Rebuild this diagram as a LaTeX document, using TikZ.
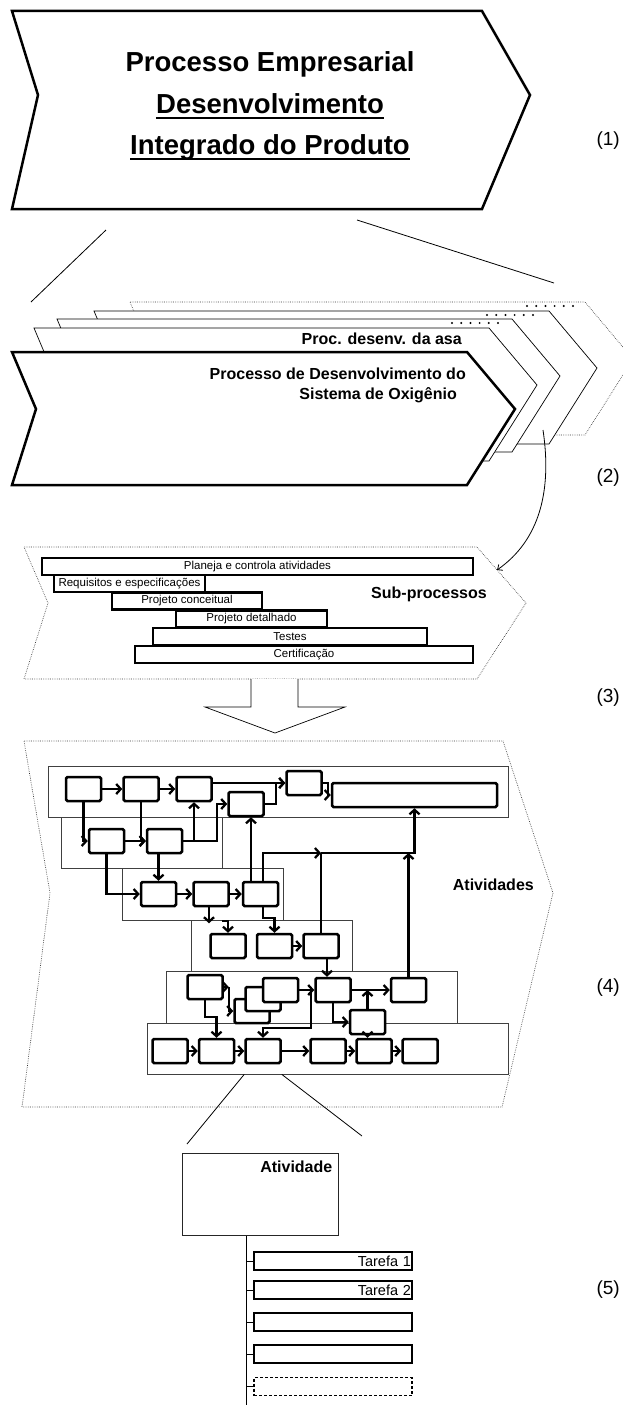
\documentclass[tikz,border=0pt]{standalone}
\usepackage{fontspec}
\setmainfont{Liberation Sans}
\usetikzlibrary{arrows.meta}

\begin{document}
\begin{tikzpicture}[x=1pt,y=-1pt,
		chev/.style={draw,line width=2.5pt,fill=white},
		sheet/.style={draw,line width=0.7pt,fill=white},
		dotline/.style={draw=black!80,line width=0.7pt,dash pattern=on 0.6pt off 1.2pt},
		lane/.style={draw=black!75,line width=0.7pt,fill=white,inner sep=0pt},
		act/.style={draw,line width=2.5pt,fill=white,rounded corners=1.5pt,minimum width=35pt,minimum height=24pt,inner sep=0pt},
		flow/.style={line width=2.3pt,-{Straight Barb[length=4.5pt,width=10pt]}},
		bar/.style={draw,line width=2.2pt,fill=white,minimum height=17pt,inner sep=0pt,font=\fontsize{11.5}{13}\selectfont},
		task/.style={draw,fill=white,minimum height=18pt,text width=156pt,align=right,inner xsep=1pt,inner ysep=0pt,font=\fontsize{14.5}{16}\selectfont},
		ttl/.style={anchor=base,inner sep=0pt,font=\bfseries\fontsize{27.5}{33}\selectfont},
		head/.style={inner sep=0pt,font=\bfseries\fontsize{16}{19}\selectfont},
		tag/.style={anchor=east,inner sep=0pt,font=\fontsize{19}{22}\selectfont},
		guide/.style={line width=0.8pt}]
	
	\useasboundingbox (0,0) rectangle (623,1405);
	
	% level 1: enterprise process
	\draw[chev] (12,11) -- (482,11) -- (530,95) -- (482,209) -- (12,209) -- (38,95) -- cycle;
	\node[ttl] (ttlA) at (270,71) {Processo Empresarial};
	\node[ttl] (ttlB) at (270,113) {Desenvolvimento};
	\node[ttl] (ttlC) at (270,154) {Integrado do Produto};
	\draw[line width=2pt] ([yshift=-5pt]ttlB.base west) -- ([yshift=-5pt]ttlB.base east);
	\draw[line width=2pt] ([yshift=-5pt]ttlC.base west) -- ([yshift=-5pt]ttlC.base east);
	\node[tag] (lab1) at (620,141) {(1)};
	
	% zoom lines
	\draw[guide] (106,230) -- (31,302);
	\draw[guide] (357,220) -- (554,283);
	
	% level 2: stack of system processes, back to front
	\draw[sheet,dotline,shift={(118,-50)}] (12,352) -- (467,352) -- (515,409) -- (467,485) -- (12,485) -- (36,409) -- cycle;
	\foreach \dx/\dy in {82/-41,45/-33,22/-24}
		\draw[sheet,shift={(\dx,\dy)}] (12,352) -- (467,352) -- (515,409) -- (467,485) -- (12,485) -- (36,409) -- cycle;
	\draw[chev] (12,352) -- (467,352) -- (515,409) -- (467,485) -- (12,485) -- (36,409) -- cycle;
	\foreach \x/\y in {452/323,487/315,527/306}
		\foreach \i in {0,...,5}
			\fill (\x+9.2*\i,\y) circle (1.1pt);
	\node[head,anchor=base east] (asa) at (462,344) {Proc. desenv. da asa};
	\node[head,anchor=base east] (oxiA) at (466,379) {Processo de Desenvolvimento do};
	\node[head,anchor=base east] (oxiB) at (457,399) {Sistema de Oxigênio};
	\node[tag] (lab2) at (620,478) {(2)};
	
	% pointer down to the sub-processes
	\coordinate (s3) at (543,430);
	\coordinate (sub) at (497,570);
	\draw[guide,-{Straight Barb[length=4pt,width=7pt]}] (s3) .. controls (552,490) and (540,540) .. (sub);
	
	% level 3: sub-processes
	\draw[sheet,dotline] (24,547) -- (477,547) -- (526,603) -- (477,679) -- (24,679) -- (48,603) -- cycle;
	\node[bar,minimum width=431pt] (plan) at (257.5,566.5) {Planeja e controla atividades};
	\node[bar,minimum width=151pt] (req) at (129.5,583.5) {Requisitos e especificações};
	\node[bar,minimum width=150pt] (conc) at (187,601) {Projeto conceitual};
	\node[bar,minimum width=151pt] (det) at (251.5,619) {Projeto detalhado};
	\node[bar,minimum width=274pt] (test) at (290,636.5) {Testes};
	\node[bar,minimum width=338pt] (cert) at (304,654.5) {Certificação};
	\node[head,anchor=east] (subp) at (487,594) {Sub-processos};
	\node[tag] (lab3) at (620,698) {(3)};
	
	% block arrow
	\draw[sheet] (251,679) -- (251,707) -- (205,707) -- (275,733) -- (345,707) -- (298,707) -- (298,679);
	
	% level 4: activities
	\draw[sheet,dotline] (24,741) -- (503,741) -- (553,893) -- (502,1107) -- (22,1107) -- (50,893) -- cycle;
	\foreach \n/\x/\y/\w/\h in {1/278/791.5/460/51, 2/141.5/842.5/161/51, 3/202.5/894/161/52,
			4/271.5/945.5/161/51, 5/311.5/997/291/52, 6/327.5/1048.5/361/51}
		\node[lane,minimum width=\w pt,minimum height=\h pt] (lane\n) at (\x,\y) {};
	\node[head,anchor=east] (ativs) at (534,885) {Atividades};
	\node[tag] (lab4) at (620,988) {(4)};
	
	\foreach \n/\x/\y in {a11/83.5/789, a12/141/789, a13/194/789, a14/246/804, a15/304/783,
			a21/106.5/841, a22/164.5/841, a31/158.5/894, a32/211/894, a33/260.5/894,
			a41/228/946, a42/274.5/946, a43/321/946,
			a51/205/987, a52c/252/1011, a52b/263/999, a52a/280.5/990, a53/333/990, a54/408.5/990, a55/367.5/1022,
			a61/170/1051, a62/216.5/1051, a63/263/1051, a64/328/1051, a65/374/1051, a66/420/1051}
		\node[act] (\n) at (\x,\y) {};
	\node[act,minimum width=165pt] (a16) at (414.5,795) {};
	
	% straight links
	\foreach \a/\b in {a11/a12,a12/a13,a21/a22,a31/a32,a32/a33,a42/a43,a52a/a53,a53/a54,
			a61/a62,a62/a63,a63/a64,a64/a65,a65/a66}
		\draw[flow] (\a) -- (\b);
	
	% routed links
	\coordinate (j1) at (321,853);
	\draw[flow] (a13.east |- a15.west) -- (a15.west);
	\draw[flow] (a14.east) -- ++(11,0) |- (a15.west);
	\draw[flow] (a15.east) -- ++(5,0) |- (a16.west);
	\draw[flow] (a11.south) |- (a21.west);
	\draw[flow] (a12.south) |- (a22.west);
	\draw[flow] (a22.east) -| (a13.south);
	\draw[flow] (a22.east) -- ++(34,0) |- (a14.west);
	\draw[flow] (a21.south) |- (a31.west);
	\draw[flow] (a31.north |- a22.south) -- (a31.north);
	\draw[flow] ([xshift=-9.5pt]a33.north) -- ([xshift=5pt]a14.south);
	\draw[flow] ([xshift=2.5pt]a33.north) |- (j1);
	\draw[line width=2.3pt] (a43.north) -- (j1);
	\draw[flow] (j1) -| (a16.south);
	\draw[flow] (a54.north) -- (a54.north |- j1);
	\draw[flow] ([xshift=-2pt]a32.south) -- ++(0,16);
	\draw[flow] (a41.north) ++(-6,-12) -| (a41.north);
	\draw[flow] ([xshift=2.5pt]a33.south) -- ++(0,11) -| (a42.north);
	\draw[flow] ([xshift=6pt]a43.south) -- ([xshift=-6pt]a53.north);
	\draw[flow] (a51.east) -- ++(5,0);
	\draw[flow] (a51.east) ++(5,0) |- (a52c.west);
	\draw[flow] (a51.south) -- ++(0,17) -| (a62.north);
	\draw[flow] ([xshift=12pt]a52a.east) -- ++(0,38) -| (a63.north);
	\draw[flow] (a53.south) |- (a55.west);
	\draw[flow] (a55.north) -- (a55.north |- a54.west);
	\draw[flow] (a55.south) -- (a55.south |- a65.north);
	
	% zoom lines to the single activity
	\coordinate (gl) at (187,1144);
	\coordinate (gr) at (362,1136);
	\draw[guide] (a63.south west |- lane6.south) -- (gl);
	\draw[guide] (a63.south east |- lane6.south) -- (gr);
	
	% level 5: activity and its tasks
	\node[draw=black!85,line width=1pt,minimum width=156pt,minimum height=82pt,inner sep=0pt] (ativ) at (260,1194) {};
	\node[head,anchor=north east] (ativlbl) at ([xshift=-6pt,yshift=-8pt]ativ.north east) {Atividade};
	\coordinate (tend) at (246,1405);
	\draw[guide] (ativ.south -| tend) -- (tend);
	\node[task,line width=2.5pt] (t1) at (333,1261) {Tarefa 1};
	\node[task,line width=1.5pt] (t2) at (333,1290) {Tarefa 2};
	\node[task,line width=1.5pt] (t3) at (333,1322) {};
	\node[task,line width=1.5pt] (t4) at (333,1354) {};
	\node[task,line width=1.3pt,dash pattern=on 3pt off 2pt] (t5) at (333,1386.5) {};
	\foreach \t in {t1,t2,t3,t4,t5}
		\draw[guide] (\t.west -| tend) -- (\t.west);
	\node[tag] (lab5) at (620,1290) {(5)};
	
\end{tikzpicture}
\end{document}
